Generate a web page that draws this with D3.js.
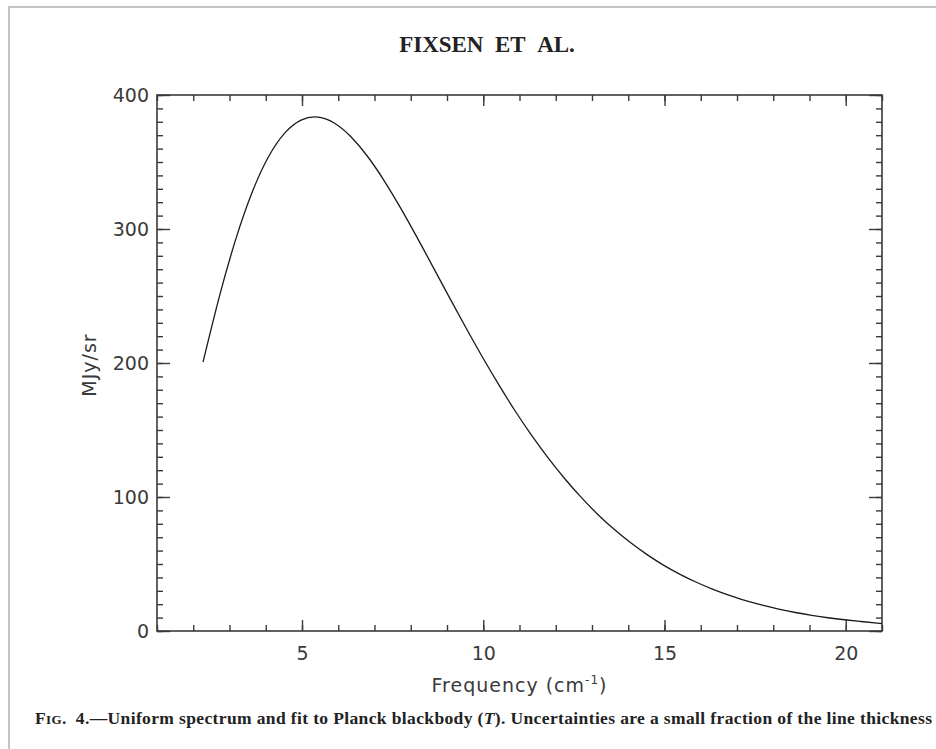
<!DOCTYPE html>
<html>
<head>
<meta charset="utf-8">
<script src="https://cdn.jsdelivr.net/npm/d3@7"></script>
<style>
  html, body { margin: 0; padding: 0; background: #fff; }
  svg { display: block; }
</style>
</head>
<body>
<svg id="chart" width="936" height="749"></svg>
<script>
// ---- data (FIRAS uniform spectrum) ----
const frequency = [2.27, 2.72, 3.18, 3.63, 4.08, 4.54, 4.99, 5.45, 5.90, 6.35, 6.81, 7.26, 7.71, 8.17, 8.62, 9.08, 9.53, 9.98, 10.44, 10.89, 11.34, 11.80, 12.25, 12.71, 13.16, 13.61, 14.07, 14.52, 14.97, 15.43, 15.88, 16.34, 16.79, 17.24, 17.70, 18.15, 18.61, 19.06, 19.51, 19.97, 20.42, 20.87, 21.33];
const intensity = [200.7, 249.5, 293.0, 327.8, 354.1, 372.1, 381.5, 383.5, 378.9, 368.8, 354.1, 336.3, 316.1, 293.9, 271.4, 248.2, 225.9, 204.3, 183.3, 163.8, 145.8, 128.8, 113.6, 99.5, 87.0, 75.9, 65.8, 57.0, 49.2, 42.3, 36.4, 31.1, 26.6, 22.6, 19.3, 16.4, 13.8, 11.7, 9.9, 8.4, 7.1, 5.8, 4.5];
const xTickLabels = [5, 10, 15, 20];
const yTickLabels = [0, 100, 200, 300, 400];
const xMinorTicks = d3.range(1, 22, 1);
const yMinorTicks = d3.range(0, 401, 10);
const xDomain = [1, 21];
const yDomain = [0, 400];

const titleText = "FIXSEN\u2002ET\u2002AL.";
const xLabelText = "Frequency (cm";
const yLabelText = "MJy/sr";

// ---- layout ----
const svg = d3.select("#chart");
const pLeft = 157, pRight = 882, pTop = 95, pBottom = 631;
const x = d3.scaleLinear().domain(xDomain).range([pLeft, pRight]);
const y = d3.scaleLinear().domain(yDomain).range([pBottom, pTop]);

const axisColor = "#3a3a3a";
const font = "'DejaVu Sans', sans-serif";

// page border (scan edge)
svg.append("path")
  .attr("d", "M9,749 L9,7 L936,7")
  .attr("fill", "none").attr("stroke", "#c4c4c4").attr("stroke-width", 2);

// title
svg.append("text")
  .attr("x", 487).attr("y", 52)
  .attr("text-anchor", "middle")
  .attr("font-family", "'Liberation Serif', 'Times New Roman', serif")
  .attr("font-weight", "bold")
  .attr("font-size", 23)
  .attr("fill", "#222")
  .text(titleText);

function styleAxis(g) {
  g.select(".domain").remove();
  g.selectAll(".tick line").attr("stroke", axisColor).attr("stroke-width", 1.4);
  g.selectAll(".tick text")
    .attr("font-family", font).attr("font-size", 19)
    .attr("fill", "#3a3a3a");
}

// minor ticks (all four sides, pointing inward)
svg.append("g").attr("transform", `translate(0,${pBottom})`)
  .call(d3.axisBottom(x).tickValues(xMinorTicks).tickSizeInner(-6).tickSizeOuter(0).tickFormat(""))
  .call(styleAxis);
svg.append("g").attr("transform", `translate(0,${pTop})`)
  .call(d3.axisTop(x).tickValues(xMinorTicks).tickSizeInner(-6).tickSizeOuter(0).tickFormat(""))
  .call(styleAxis);
svg.append("g").attr("transform", `translate(${pLeft},0)`)
  .call(d3.axisLeft(y).tickValues(yMinorTicks).tickSizeInner(-6).tickSizeOuter(0).tickFormat(""))
  .call(styleAxis);
svg.append("g").attr("transform", `translate(${pRight},0)`)
  .call(d3.axisRight(y).tickValues(yMinorTicks).tickSizeInner(-6).tickSizeOuter(0).tickFormat(""))
  .call(styleAxis);

// major ticks with labels
svg.append("g").attr("transform", `translate(0,${pBottom})`)
  .call(d3.axisBottom(x).tickValues(xTickLabels).tickSizeInner(-11).tickSizeOuter(0).tickPadding(16).tickFormat(d3.format("d")))
  .call(styleAxis);
svg.append("g").attr("transform", `translate(0,${pTop})`)
  .call(d3.axisTop(x).tickValues(xTickLabels).tickSizeInner(-11).tickSizeOuter(0).tickFormat(""))
  .call(styleAxis);
svg.append("g").attr("transform", `translate(${pLeft},0)`)
  .call(d3.axisLeft(y).tickValues(yTickLabels).tickSizeInner(-13).tickSizeOuter(0).tickPadding(8).tickFormat(d3.format("d")))
  .call(styleAxis);
svg.append("g").attr("transform", `translate(${pRight},0)`)
  .call(d3.axisRight(y).tickValues(yTickLabels).tickSizeInner(-13).tickSizeOuter(0).tickFormat(""))
  .call(styleAxis);

// frame
svg.append("rect")
  .attr("x", pLeft).attr("y", pTop)
  .attr("width", pRight - pLeft).attr("height", pBottom - pTop)
  .attr("fill", "none").attr("stroke", axisColor).attr("stroke-width", 1.6);

// clip & curve
svg.append("clipPath").attr("id", "plotclip")
  .append("rect").attr("x", pLeft).attr("y", pTop).attr("width", pRight - pLeft).attr("height", pBottom - pTop);

const pts = frequency.map((f, i) => [f, intensity[i]]);
svg.append("path")
  .datum(pts)
  .attr("clip-path", "url(#plotclip)")
  .attr("fill", "none")
  .attr("stroke", "#1a1a1a")
  .attr("stroke-width", 1.3)
  .attr("d", d3.line().x(d => x(d[0])).y(d => y(d[1])).curve(d3.curveNatural));

// axis titles
const xl = svg.append("text")
  .attr("x", (pLeft + pRight) / 2).attr("y", 692)
  .attr("text-anchor", "middle")
  .attr("font-family", font).attr("font-size", 19)
  .attr("letter-spacing", 1)
  .attr("fill", "#3a3a3a");
xl.append("tspan").text(xLabelText);
xl.append("tspan").attr("dy", -8).attr("font-size", 12).text("-1");
xl.append("tspan").attr("dy", 8).text(")");

svg.append("text")
  .attr("transform", "translate(96,365) rotate(-90)")
  .attr("text-anchor", "middle")
  .attr("font-family", font).attr("font-size", 19)
  .attr("letter-spacing", 1)
  .attr("fill", "#3a3a3a")
  .text(yLabelText);

// caption
const cap = svg.append("text")
  .attr("x", 35).attr("y", 724)
  .attr("font-family", "'Liberation Serif', 'Times New Roman', serif")
  .attr("font-weight", "bold")
  .attr("font-size", 17.5)
  .attr("fill", "#222")
  .attr("textLength", 897)
  .attr("lengthAdjust", "spacing");
cap.append("tspan").text("F");
cap.append("tspan").attr("font-size", 13).text("IG");
cap.append("tspan").text(".\u20024.\u2014Uniform spectrum and fit to Planck blackbody (");
cap.append("tspan").attr("font-style", "italic").text("T");
cap.append("tspan").text("). Uncertainties are a small fraction of the line thickness");
</script>
</body>
</html>
